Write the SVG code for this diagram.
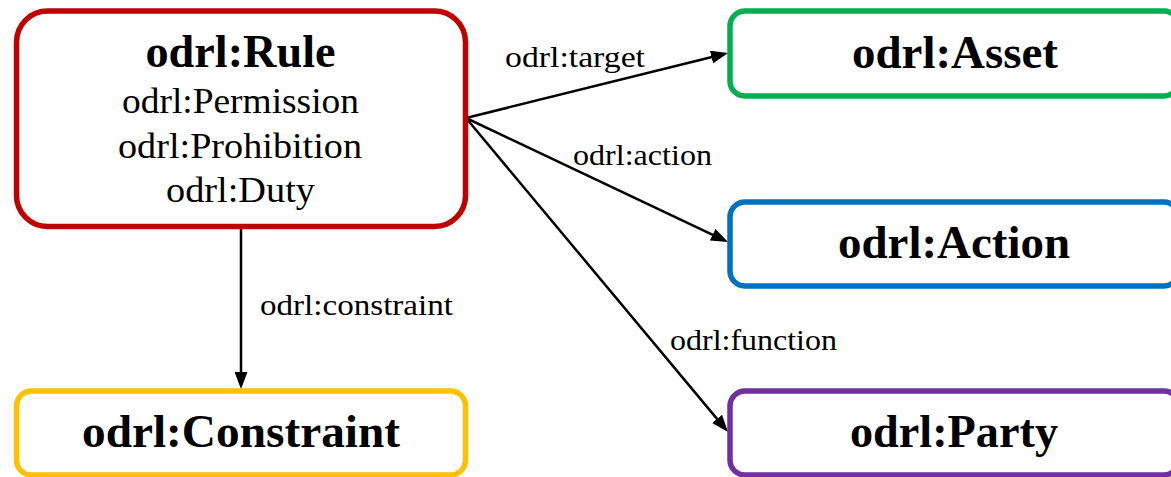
<svg xmlns="http://www.w3.org/2000/svg" width="1171" height="477" viewBox="0 0 1171 477">
  <style>
    .box { fill: #ffffff; stroke-width: 5.5; }
    .title { font-family: "Liberation Serif", "DejaVu Serif", serif; font-weight: bold; font-size: 46px; fill: #000; text-anchor: middle; }
    .sub { font-family: "Liberation Serif", "DejaVu Serif", serif; font-weight: normal; font-size: 35px; fill: #000; text-anchor: middle; }
    .lbl { font-family: "Liberation Serif", "DejaVu Serif", serif; font-weight: normal; font-size: 29px; fill: #000; }
    .edge { fill: none; stroke: #000; stroke-width: 2.5; marker-end: url(#arrow); }
  </style>
  <defs>
    <marker id="arrow" markerUnits="userSpaceOnUse" markerWidth="17" markerHeight="13" refX="13" refY="6.5" orient="auto">
      <path d="M0,0 L17,6.5 L0,13 z" fill="#000"/>
    </marker>
  </defs>
  <rect width="1171" height="477" fill="#ffffff"/>

  <g id="connectors">
    <line class="edge" x1="466" y1="118" x2="724.1" y2="54"/>
    <line class="edge" x1="466" y1="118" x2="724.4" y2="240.3"/>
    <line class="edge" x1="466" y1="118" x2="725.4" y2="428.9"/>
    <line class="edge" x1="241" y1="228" x2="241" y2="385"/>
    <text class="lbl" x="505" y="67" textLength="140" lengthAdjust="spacingAndGlyphs">odrl:target</text>
    <text class="lbl" x="573" y="165" textLength="139" lengthAdjust="spacingAndGlyphs">odrl:action</text>
    <text class="lbl" x="670" y="350" textLength="167" lengthAdjust="spacingAndGlyphs">odrl:function</text>
    <text class="lbl" x="260" y="315" textLength="193" lengthAdjust="spacingAndGlyphs">odrl:constraint</text>
  </g>

  <g id="rule">
    <rect class="box" x="16.5" y="11" width="449" height="215.5" rx="31" ry="31" stroke="#C00000"/>
    <text class="title" x="240.5" y="67" textLength="190" lengthAdjust="spacingAndGlyphs">odrl:Rule</text>
    <text class="sub" x="240.5" y="113" textLength="237" lengthAdjust="spacingAndGlyphs">odrl:Permission</text>
    <text class="sub" x="240" y="157.5" textLength="244" lengthAdjust="spacingAndGlyphs">odrl:Prohibition</text>
    <text class="sub" x="240.5" y="202" textLength="149" lengthAdjust="spacingAndGlyphs">odrl:Duty</text>
  </g>

  <g id="asset">
    <rect class="box" x="730" y="11" width="449" height="85" rx="15" ry="15" stroke="#00B050"/>
    <text class="title" x="955" y="68" textLength="206" lengthAdjust="spacingAndGlyphs">odrl:Asset</text>
  </g>

  <g id="action">
    <rect class="box" x="730" y="202" width="449" height="84" rx="15" ry="15" stroke="#0070C0"/>
    <text class="title" x="954" y="258" textLength="232" lengthAdjust="spacingAndGlyphs">odrl:Action</text>
  </g>

  <g id="party">
    <rect class="box" x="730" y="391" width="449" height="84" rx="15" ry="15" stroke="#7030A0"/>
    <text class="title" x="954" y="447" textLength="208" lengthAdjust="spacingAndGlyphs">odrl:Party</text>
  </g>

  <g id="constraint">
    <rect class="box" x="16.5" y="391" width="449" height="84" rx="15" ry="15" stroke="#FFC000"/>
    <text class="title" x="241" y="447" textLength="318" lengthAdjust="spacingAndGlyphs">odrl:Constraint</text>
  </g>
</svg>
